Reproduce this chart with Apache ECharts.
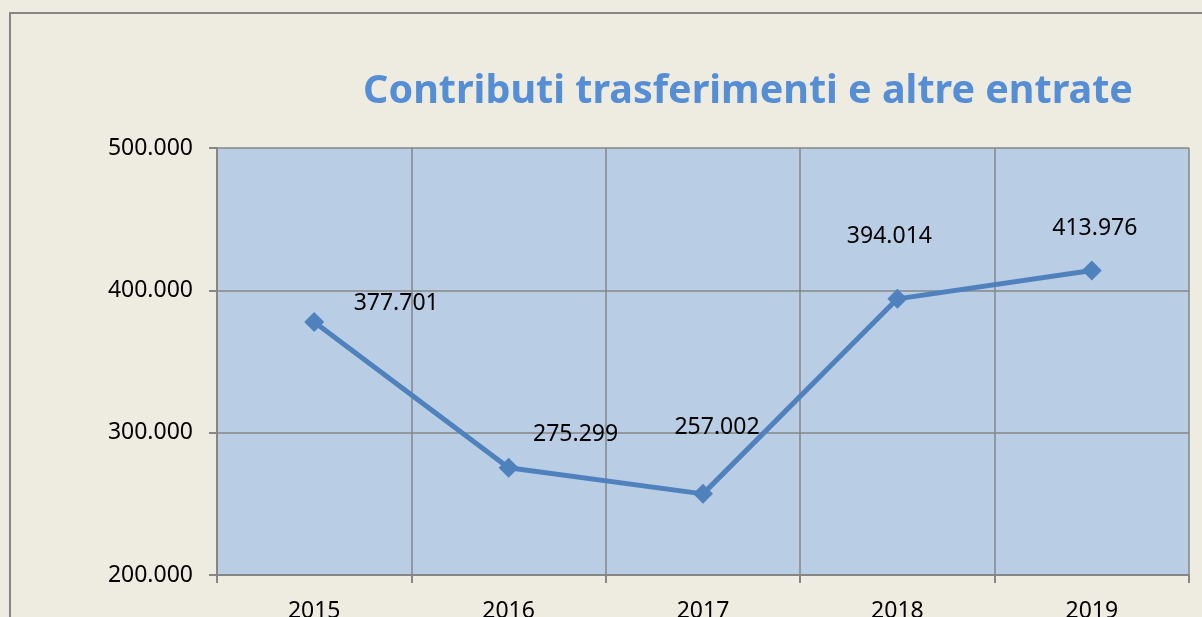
<!DOCTYPE html>
<html>
<head>
<meta charset="utf-8">
<script src="https://cdn.jsdelivr.net/npm/echarts@6/dist/echarts.min.js"></script>
<style>
  html, body { margin: 0; padding: 0; background: #EEEBE0; }
  #main { width: 1202px; height: 617px; }
</style>
</head>
<body>
<div id="main"></div>
<script>
// dati del grafico
const anni = ['2015', '2016', '2017', '2018', '2019']
const valori = [377701, 275299, 257002, 394014, 413976]
const yTicks = [200000, 300000, 400000, 500000]

// spostamento delle etichette rispetto al punto (come nel grafico originale)
const labelOffsets = [[82, -19], [67, -33], [14, -66], [-8, -62], [3, -42]]

// formato italiano: 377701 -> 377.701
const fmt = v => String(v).replace(/\B(?=(\d{3})+(?!\d))/g, '.')

const chart = echarts.init(document.getElementById('main'))

const option = {
  backgroundColor: '#EEEBE0',
  animation: false,
  graphic: [
    {
      type: 'rect',
      shape: { x: 10, y: 13, width: 1200, height: 620 },
      style: { fill: 'none', stroke: '#868686', lineWidth: 2 },
      silent: true
    },
    {
      type: 'text',
      x: 748,
      y: 92,
      style: {
        text: 'Contributi trasferimenti e altre entrate',
        fill: '#558ED5',
        font: 'bold 39.5px "Noto Sans"',
        textAlign: 'center',
        textVerticalAlign: 'middle'
      }
    }
  ],
  grid: {
    left: 217, top: 148, right: 13, bottom: 42,
    outerBoundsMode: 'none',
    containLabel: false,
    show: true,
    backgroundColor: '#B9CDE5',
    borderWidth: 0
  },
  xAxis: {
    type: 'category',
    data: anni,
    boundaryGap: true,
    axisLine: { lineStyle: { color: '#868686', width: 2 } },
    axisTick: { show: true, length: 8, lineStyle: { color: '#868686', width: 2 } },
    axisLabel: { color: '#000', fontFamily: 'Noto Sans', fontSize: 23, margin: 25 },
    splitLine: { show: true, lineStyle: { color: '#868686', width: 1.5 } }
  },
  yAxis: {
    type: 'value',
    min: yTicks[0],
    max: yTicks[yTicks.length - 1],
    interval: 100000,
    axisLine: { show: true, lineStyle: { color: '#868686', width: 2 } },
    axisTick: { show: true, length: 8, lineStyle: { color: '#868686', width: 2 } },
    axisLabel: { color: '#000', fontFamily: 'Noto Sans', fontSize: 23, margin: 24, formatter: v => fmt(v) },
    splitLine: { show: true, lineStyle: { color: '#868686', width: 1.5 } }
  },
  series: [
    {
      type: 'line',
      data: valori.map((v, i) => ({
        value: v,
        label: { offset: labelOffsets[i] }
      })),
      symbol: 'diamond',
      symbolSize: 20,
      lineStyle: { color: '#4F81BD', width: 5 },
      itemStyle: { color: '#4F81BD' },
      label: {
        show: true,
        position: 'inside',
        color: '#000',
        fontFamily: 'Noto Sans',
        fontSize: 23,
        formatter: p => fmt(p.value)
      }
    }
  ]
}

chart.setOption(option)
</script>
</body>
</html>
